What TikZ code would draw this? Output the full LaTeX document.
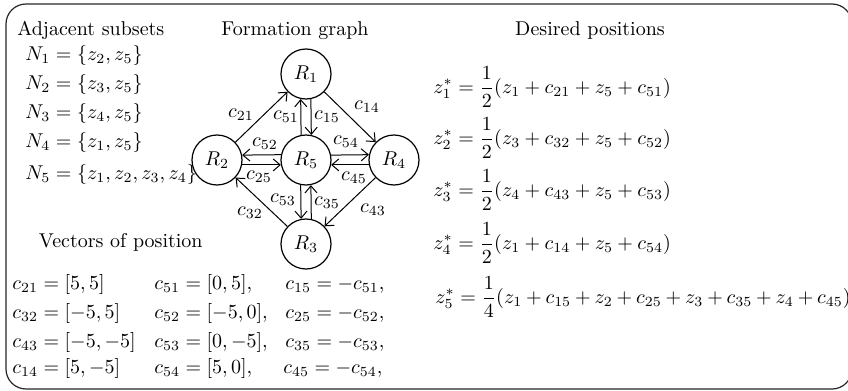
\documentclass[tikz,border=0pt]{standalone}
\usetikzlibrary{arrows.meta,calc}
\begin{document}
\begin{tikzpicture}[x=0.5pt,y=-0.5pt,
  robot/.style={circle, draw, line width=0.6pt, minimum size=25pt, inner sep=0pt},
  edge/.style={line width=0.5pt, -{Straight Barb[length=3.5pt,width=6pt]}},
  lab/.style={inner sep=0pt},
  eq/.style={anchor=west, inner sep=0pt},
  row/.style={anchor=base west, inner sep=0pt},
  ttl/.style={anchor=base, inner sep=0pt}]
\useasboundingbox (0,0) rectangle (848,391);
\draw[rounded corners=10pt, line width=0.6pt, black!85] (6,4) rectangle (852,389);

% titles
\node[row] (t1) at (17,35) {Adjacent subsets};
\node[ttl] (t2) at (295,35) {Formation graph};
\node[ttl] (t3) at (590,35) {Desired positions};
\node[anchor=base east, inner sep=0pt] (t4) at (203,247) {Vectors of position};

% adjacent subsets
\node[row] (n1) at (25,61) {$N_1 = \{z_2, z_5\}$};
\node[row] (n2) at (25,90) {$N_2 = \{z_3, z_5\}$};
\node[row] (n3) at (25,119) {$N_3 = \{z_4, z_5\}$};
\node[row] (n4) at (25,148) {$N_4 = \{z_1, z_5\}$};
\node[row] (n5) at (25,179) {$N_5 = \{z_1, z_2, z_3, z_4\}$};

% graph
\node[robot] (R1) at (306,74) {$R_1$};
\node[robot] (R2) at (217,160) {$R_2$};
\node[robot] (R5) at (306,160) {$R_5$};
\node[robot] (R4) at (394,160) {$R_4$};
\node[robot] (R3) at (306,244) {$R_3$};

\draw[edge] (R2) -- (R1);
\draw[edge] (R1) -- (R4);
\draw[edge] (R4) -- (R3);
\draw[edge] (R3) -- (R2);
\draw[edge] (R5.101.5) -- (R1.258.5);
\draw[edge] (R1.281.5) -- (R5.78.5);
\draw[edge] (R5.168.5) -- (R2.11.5);
\draw[edge] (R2.-11.5) -- (R5.191.5);
\draw[edge] (R5.11.5) -- (R4.168.5);
\draw[edge] (R4.191.5) -- (R5.-11.5);
\draw[edge] (R5.258.5) -- (R3.101.5);
\draw[edge] (R3.78.5) -- (R5.281.5);

\node[lab] (l21) at (241,115) {$c_{21}$};
\node[lab] (l51) at (286,117) {$c_{51}$};
\node[lab] (l15) at (327,117) {$c_{15}$};
\node[lab] (l14) at (367,107) {$c_{14}$};
\node[lab] (l52) at (265,144) {$c_{52}$};
\node[lab] (l25) at (259,177) {$c_{25}$};
\node[lab] (l54) at (346,142) {$c_{54}$};
\node[lab] (l45) at (354,178) {$c_{45}$};
\node[lab] (l53) at (283,200) {$c_{53}$};
\node[lab] (l35) at (327,203) {$c_{35}$};
\node[lab] (l32) at (250,213) {$c_{32}$};
\node[lab] (l43) at (373,210) {$c_{43}$};

% vectors of position
\node[row] (v11) at (12,289) {$c_{21} = [5, 5]$};
\node[row] (v21) at (12,318) {$c_{32} = [-5, 5]$};
\node[row] (v31) at (12,347) {$c_{43} = [-5, -5]$};
\node[row] (v41) at (12,373) {$c_{14} = [5, -5]$};
\node[row] (v12) at (154,289) {$c_{51} = [0, 5],$};
\node[row] (v22) at (154,318) {$c_{52} = [-5, 0],$};
\node[row] (v32) at (154,347) {$c_{53} = [0, -5],$};
\node[row] (v42) at (154,373) {$c_{54} = [5, 0],$};
\node[row] (v13) at (285,289) {$c_{15} = -c_{51},$};
\node[row] (v23) at (285,318) {$c_{25} = -c_{52},$};
\node[row] (v33) at (285,347) {$c_{35} = -c_{53},$};
\node[row] (v43) at (283,373) {$c_{45} = -c_{54},$};

% desired positions
\node[eq] (e1) at (433,87) {$\displaystyle z_1^* = \frac{1}{2}(z_1 + c_{21} + z_5 + c_{51})$};
\node[eq] (e2) at (433,138) {$\displaystyle z_2^* = \frac{1}{2}(z_3 + c_{32} + z_5 + c_{52})$};
\node[eq] (e3) at (433,190) {$\displaystyle z_3^* = \frac{1}{2}(z_4 + c_{43} + z_5 + c_{53})$};
\node[eq] (e4) at (433,243) {$\displaystyle z_4^* = \frac{1}{2}(z_1 + c_{14} + z_5 + c_{54})$};
\node[eq] (e5) at (435,297) {$\medmuskip=3.5mu\displaystyle z_5^* = \frac{1}{4}(z_1 + c_{15} + z_2 + c_{25} + z_3 + c_{35} + z_4 + c_{45})$};
\end{tikzpicture}
\end{document}
